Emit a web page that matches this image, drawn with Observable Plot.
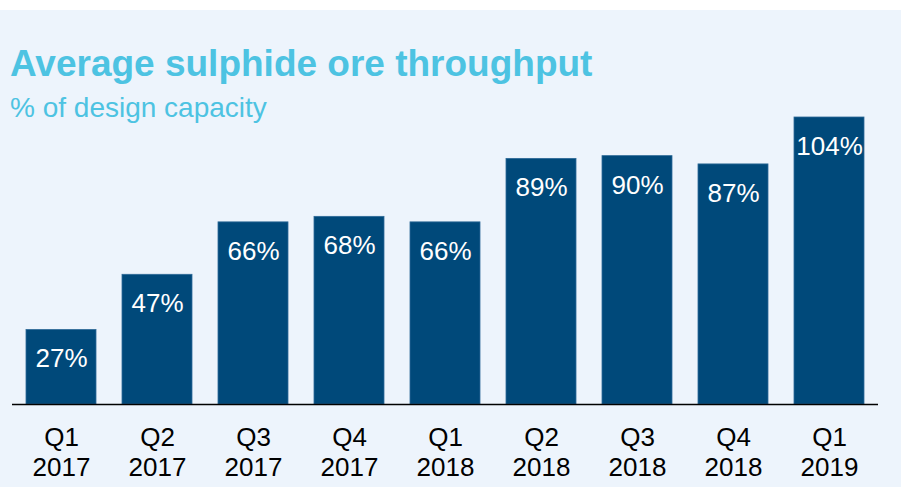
<!DOCTYPE html>
<html>
<head>
<meta charset="utf-8">
<script src="https://cdn.jsdelivr.net/npm/d3@7"></script>
<script src="https://cdn.jsdelivr.net/npm/@observablehq/plot@0.6"></script>
<style>
  html, body { margin: 0; padding: 0; background: #ffffff; }
  #wrap { position: relative; width: 901px; height: 487px; background: #ffffff; font-family: "Liberation Sans", Arial, sans-serif; overflow: hidden; }
  #panel { position: absolute; left: 0; top: 10px; width: 901px; height: 477px; background: #EDF4FC; }
  #title { position: absolute; left: 10px; top: 34.7px; font-size: 37px; line-height: 37px; font-weight: bold; color: #4DC3E2; white-space: nowrap; z-index: 2; }
  #subtitle { position: absolute; left: 10px; top: 84px; font-size: 28px; line-height: 28px; color: #4DC3E2; white-space: nowrap; z-index: 2; }
  #chart { position: absolute; left: 0; top: 0; }
  #chart svg { display: block; }
</style>
</head>
<body>
<div id="wrap">
  <div id="panel">
    <div id="chart"></div>
    <div id="title">Average sulphide ore throughput</div>
    <div id="subtitle">% of design capacity</div>
  </div>
</div>
<script>
const quarters = ["Q1", "Q2", "Q3", "Q4", "Q1", "Q2", "Q3", "Q4", "Q1"];
const years = ["2017", "2017", "2017", "2017", "2018", "2018", "2018", "2018", "2019"];
const values = [27, 47, 66, 68, 66, 89, 90, 87, 104];

const categories = quarters.map((q, i) => q + "\n" + years[i]);
const data = categories.map((c, i) => ({ period: c, value: values[i] }));

const chart = Plot.plot({
  width: 901,
  height: 477,
  marginLeft: 12,
  marginRight: 23,
  marginTop: 107,
  marginBottom: 83,
  style: { background: "transparent", fontFamily: "'Liberation Sans', Arial, sans-serif", overflow: "visible" },
  x: { domain: categories, paddingInner: 0.267, paddingOuter: 0.135, label: null },
  y: { domain: [0, 104], nice: false, axis: null, label: null },
  marks: [
    Plot.barY(data, { x: "period", y: "value", fill: "#00497A", stroke: "#2E6A98", strokeWidth: 0.8 }),
    Plot.ruleY([0], { stroke: "#000000", strokeWidth: 1.5 }),
    Plot.text(data, {
      x: "period", y: "value", text: d => d.value + "%",
      fill: "#ffffff", fontSize: 26, lineAnchor: "top", dy: 19
    }),
    Plot.axisX({
      tickSize: 0, tickPadding: 20, fontSize: 26, lineHeight: 1.154,
      color: "#000000", label: null
    })
  ]
});
document.getElementById("chart").appendChild(chart);
</script>
</body>
</html>
